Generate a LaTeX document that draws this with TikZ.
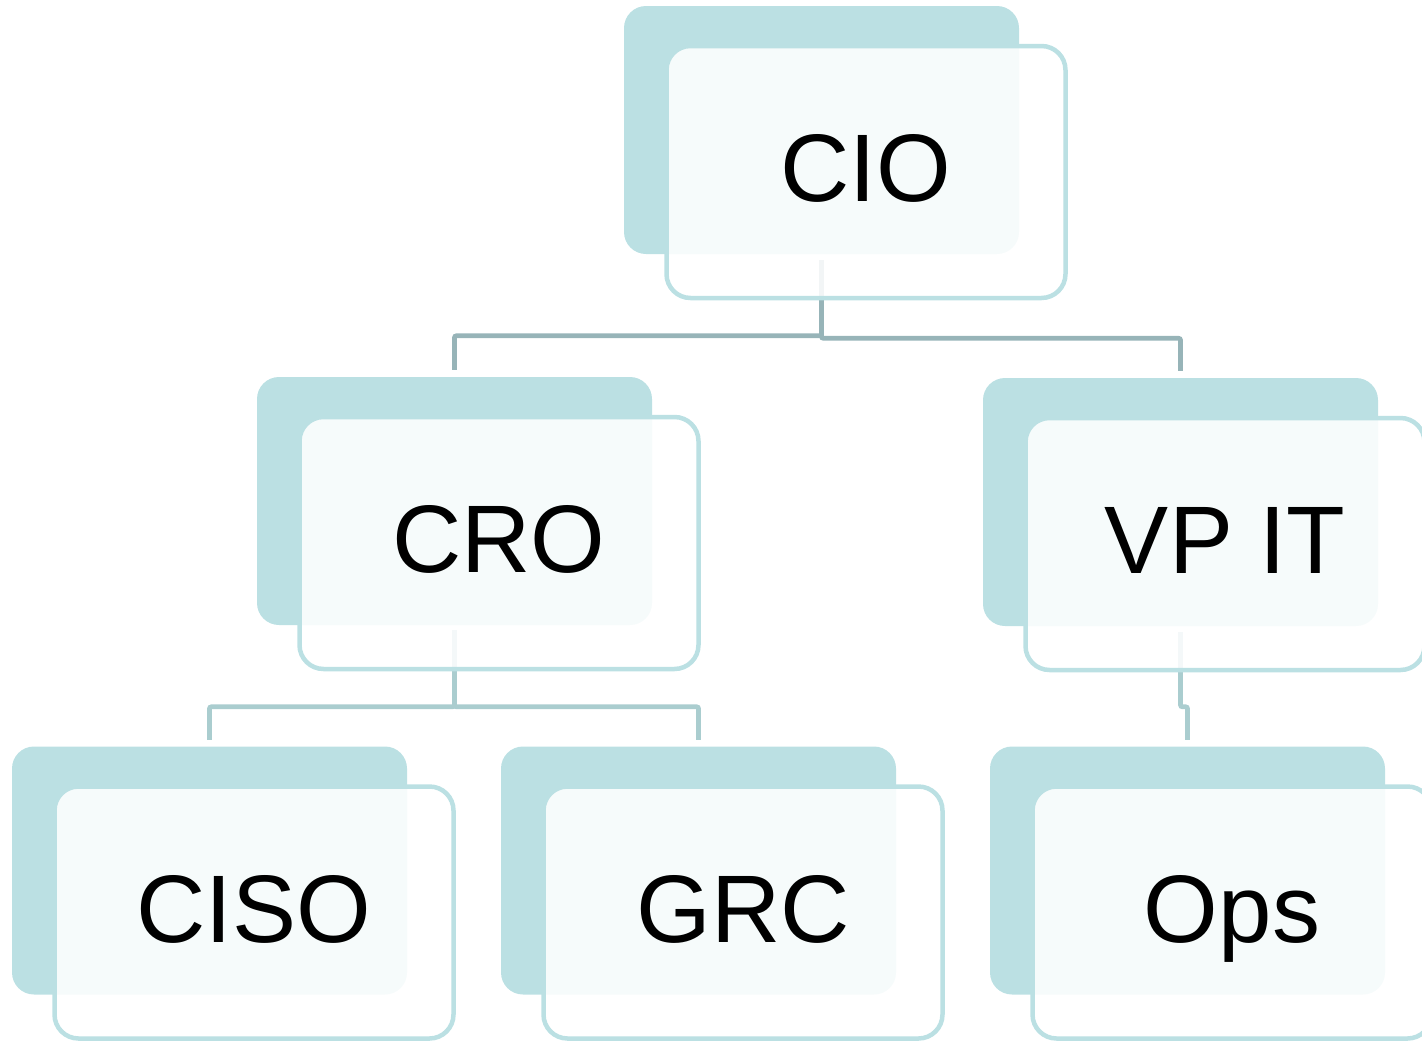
\documentclass[tikz,border=0pt]{standalone}
\usepackage{fontspec}
\setmainfont{Liberation Sans}
\usetikzlibrary{calc}
\definecolor{backteal}{HTML}{BBE0E3}
\definecolor{frontline}{HTML}{BBE0E3}
\definecolor{connA}{HTML}{97B4B8}
\definecolor{connB}{HTML}{AACDCF}
\tikzset{
  backbox/.style={rectangle, rounded corners=22pt, fill=backteal, draw=none,
    minimum width=395pt, minimum height=248pt, inner sep=0pt},
  frontbox/.style={rectangle, rounded corners=24pt, fill=white, fill opacity=0.88,
    text opacity=1, draw=frontline, draw opacity=1, line width=4.5pt,
    minimum width=399pt, minimum height=252pt, inner sep=0pt,
    text height=69pt, text depth=10pt, font=\fontsize{96}{100}\selectfont},
  connline/.style={line width=4.8pt, rounded corners=2pt},
}
\begin{document}
\begin{tikzpicture}[x=1pt,y=-1pt]
\useasboundingbox (0,0) rectangle (1422,1042);
\clip (0,0) rectangle (1422,1042);
% back boxes (centre = top-left + (197.5,124))
\node[backbox] (ciob)  at (821.5,130) {};
\node[backbox] (crob)  at (454.5,501) {};
\node[backbox] (vpitb) at (1180.5,502) {};
\node[backbox] (cisob) at (209.5,870.5) {};
\node[backbox] (grcb)  at (698.5,870.5) {};
\node[backbox] (opsb)  at (1187.5,870.5) {};
% connectors
\draw[connline, connA] ($(ciob.south)+(0,6)$) |- ($(crob.north)+(0,-41)$) -- ($(crob.north)+(0,-7)$);
\draw[connline, connA] ($(ciob.south)+(0,6)$) |- ($(vpitb.north)+(0,-39.5)$) -- ($(vpitb.north)+(0,-7)$);
\draw[connline, connB] ($(crob.south)+(0,5)$) |- ($(cisob.north)+(0,-39.5)$) -- ($(cisob.north)+(0,-6.5)$);
\draw[connline, connB] ($(crob.south)+(0,5)$) |- ($(grcb.north)+(0,-39.5)$) -- ($(grcb.north)+(0,-6.5)$);
\draw[connline, connB] ($(vpitb.south)+(0,6)$) |- ($(opsb.north)+(0,-39.5)$) -- ($(opsb.north)+(0,-6.5)$);
% front boxes (centre = back top-left + (242,166))
\node[frontbox] (cio)  at (866,172) {CIO};
\node[frontbox] (cro)  at (499,543) {CRO};
\node[frontbox] (vpit) at (1225,544) {VP IT};
\node[frontbox] (ciso) at (254,912.5) {CISO};
\node[frontbox] (grc)  at (743,912.5) {GRC};
\node[frontbox] (ops)  at (1232,912.5) {Ops};
\end{tikzpicture}
\end{document}
